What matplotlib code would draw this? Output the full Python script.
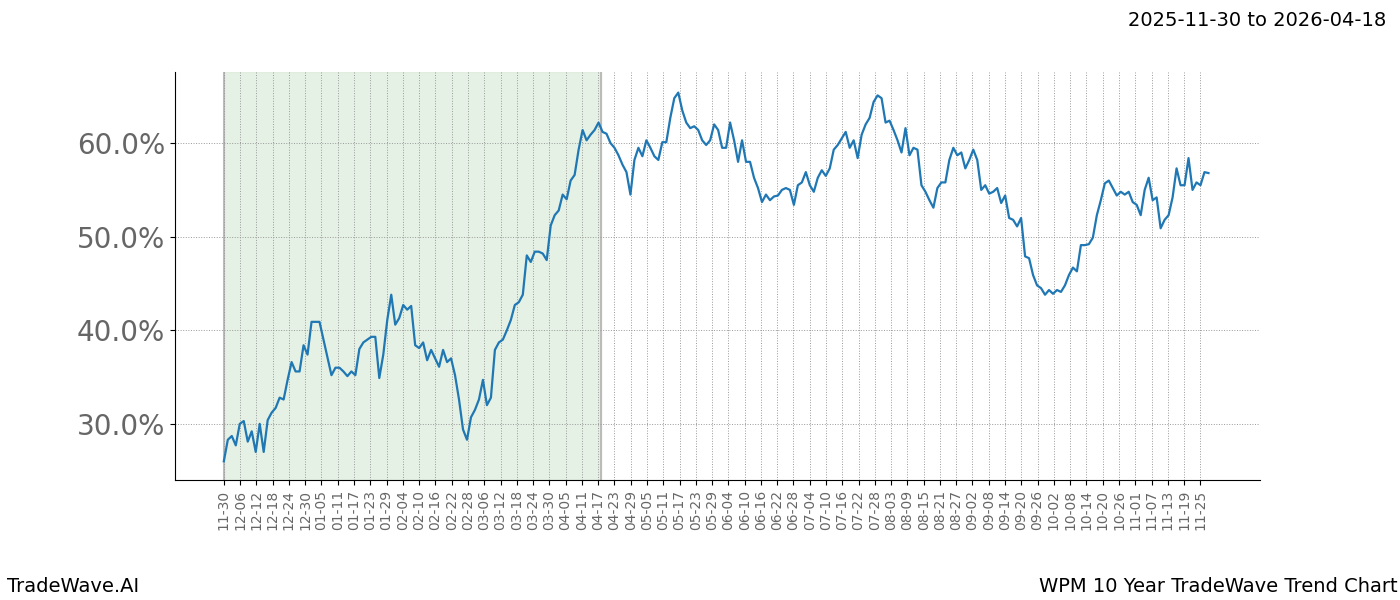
import matplotlib
matplotlib.use("Agg")
import matplotlib.pyplot as plt
import numpy as np
import datetime as dt

start_date = "2025-11-30"
shade_end_day = 139
values = [26.0,28.3,28.7,27.7,30.0,30.3,28.1,29.2,27.0,30.0,27.0,30.4,31.2,31.7,32.8,32.6,34.7,36.6,35.6,35.6,
38.4,37.4,40.9,40.9,40.9,39.0,37.1,35.2,36.0,36.0,35.6,35.1,35.6,35.2,38.0,38.7,39.0,39.3,39.3,34.9,
37.4,41.1,43.8,40.6,41.3,42.7,42.2,42.6,38.4,38.1,38.7,36.8,37.9,37.0,36.1,37.9,36.6,37.0,35.2,32.6,
29.4,28.3,30.7,31.5,32.6,34.7,32.0,32.8,37.9,38.7,39.0,40.0,41.1,42.7,43.0,43.8,48.0,47.3,48.4,48.4,
48.2,47.5,51.2,52.3,52.8,54.5,54.0,56.0,56.6,59.3,61.4,60.3,60.9,61.4,62.2,61.2,61.0,60.0,59.5,58.7,
57.7,56.9,54.5,58.2,59.5,58.6,60.3,59.5,58.6,58.2,60.1,60.1,62.7,64.8,65.4,63.5,62.2,61.6,61.8,61.4,
60.3,59.8,60.3,62.0,61.4,59.5,59.5,62.2,60.3,58.0,60.3,58.0,58.0,56.3,55.2,53.7,54.5,53.9,54.3,54.4,
55.0,55.2,55.0,53.4,55.5,55.8,56.9,55.5,54.8,56.3,57.1,56.5,57.3,59.3,59.8,60.5,61.2,59.5,60.3,58.4,
60.9,62.0,62.7,64.4,65.1,64.8,62.2,62.4,61.4,60.3,59.0,61.6,58.7,59.5,59.3,55.5,54.8,53.9,53.1,55.2,
55.8,55.8,58.2,59.5,58.7,59.0,57.3,58.2,59.3,58.2,55.0,55.5,54.6,54.8,55.2,53.6,54.4,52.0,51.8,51.1,
52.0,47.9,47.7,45.9,44.8,44.5,43.8,44.3,43.9,44.3,44.1,44.8,45.9,46.7,46.3,49.1,49.1,49.2,49.9,52.3,
53.9,55.7,56.0,55.2,54.4,54.8,54.5,54.8,53.7,53.4,52.3,55.0,56.3,53.9,54.2,50.9,51.8,52.3,54.2,57.3,
55.5,55.5,58.4,55.0,55.8,55.5,56.9,56.8]
last_day = 363

d0 = dt.date.fromisoformat(start_date)
tick_days = list(range(0, 361, 6))
tick_labels = [(d0 + dt.timedelta(days=d)).strftime("%m-%d") for d in tick_days]
end_date = (d0 + dt.timedelta(days=shade_end_day)).isoformat()

x = np.linspace(0, last_day, len(values))

fig = plt.figure(figsize=(14, 6), dpi=100)
ax = fig.add_axes([0.125, 0.2, 0.775, 0.68])
ax.axvspan(0, shade_end_day, color="#d8ead6", alpha=0.65, zorder=0)
ax.axvline(0, color="#bbbbbb", lw=1.5, zorder=0.5)
ax.axvline(shade_end_day, color="#bbbbbb", lw=1.5, zorder=0.5)
ax.plot(x, values, color="#1f77b4", lw=1.6, zorder=3)
ax.set_xlim(-18, 382)
ax.set_ylim(24.0, 67.6)
ax.set_xticks(tick_days)
ax.set_xticklabels(tick_labels, rotation=90, fontsize=10, color="#666666")
ax.set_yticks([30, 40, 50, 60])
ax.set_yticklabels(["30.0%", "40.0%", "50.0%", "60.0%"], fontsize=20, color="#666666")
ax.grid(True, color="#999999", linestyle=":", linewidth=0.7)
for s in ["top", "right"]:
    ax.spines[s].set_visible(False)
fig.text(0.99, 0.965, f"{start_date} to {end_date}", ha="right", va="center", fontsize=14)
fig.text(0.005, 0.022, "TradeWave.AI", ha="left", va="center", fontsize=14)
fig.text(0.998, 0.022, "WPM 10 Year TradeWave Trend Chart", ha="right", va="center", fontsize=14)
fig.savefig("out.png")
